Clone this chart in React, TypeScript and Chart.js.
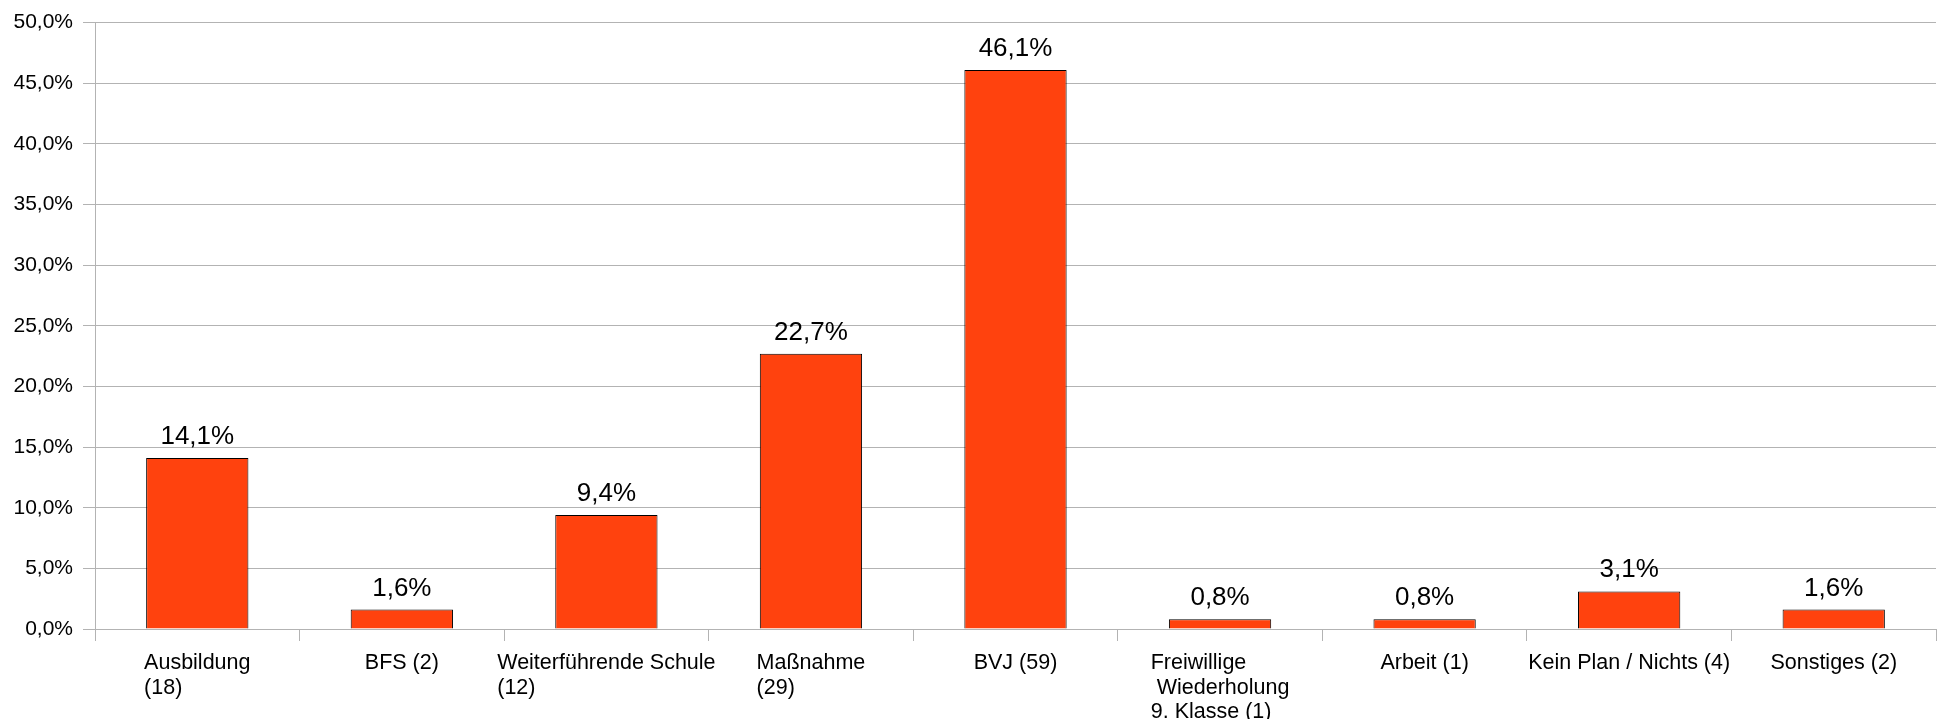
import React, { useEffect, useRef } from "react";
import { Chart, registerables } from "chart.js";

Chart.register(...registerables);

const categoryLines: string[][] = [
  ["Ausbildung", "(18)"],
  ["BFS (2)"],
  ["Weiterführende Schule", "(12)"],
  ["Maßnahme", "(29)"],
  ["BVJ (59)"],
  ["Freiwillige", " Wiederholung", "9. Klasse (1)"],
  ["Arbeit (1)"],
  ["Kein Plan / Nichts (4)"],
  ["Sonstiges (2)"],
];

const percentValues: number[] = [14.1, 1.6, 9.4, 22.7, 46.1, 0.8, 0.8, 3.1, 1.6];

const yMin = 0;
const yMax = 50;
const yStep = 5;

const FONT = "'Liberation Sans', Arial, sans-serif";
const fmt = (v: number) => v.toFixed(1).replace(".", ",") + "%";

export default function App() {
  const ref = useRef<HTMLCanvasElement | null>(null);

  useEffect(() => {
    if (!ref.current) return;

    const valueLabels = {
      id: "valueLabels",
      afterDatasetsDraw(chart: any) {
        const ctx = chart.ctx;
        const meta = chart.getDatasetMeta(0);
        ctx.save();
        ctx.font = `26px ${FONT}`;
        ctx.fillStyle = "#000";
        ctx.textAlign = "center";
        ctx.textBaseline = "alphabetic";
        meta.data.forEach((bar: any, i: number) => {
          ctx.fillText(fmt(percentValues[i]), bar.x, bar.y - 14);
        });
        ctx.restore();
      },
    };

    const catLabels = {
      id: "catLabels",
      afterDraw(chart: any) {
        const ctx = chart.ctx;
        const xs = chart.scales.x;
        ctx.save();
        ctx.font = `21.5px ${FONT}`;
        ctx.fillStyle = "#000";
        ctx.textAlign = "left";
        ctx.textBaseline = "alphabetic";
        categoryLines.forEach((lines, i) => {
          const cx = xs.getPixelForValue(i);
          const maxW = Math.max(...lines.map((l) => ctx.measureText(l).width));
          const x0 = cx - maxW / 2;
          lines.forEach((l, j) => {
            ctx.fillText(l, x0, xs.top + 40 + j * 24.5);
          });
        });
        ctx.restore();
      },
    };

    const chart = new Chart(ref.current, {
      type: "bar",
      data: {
        labels: categoryLines.map((l) => l.join(" ")),
        datasets: [
          {
            data: percentValues,
            backgroundColor: "#ff420e",
            borderColor: "#000000",
            borderWidth: 1,
            barPercentage: 0.5,
            categoryPercentage: 1.0,
          },
        ],
      },
      options: {
        animation: false,
        responsive: false,
        devicePixelRatio: 1,
        layout: { padding: { top: 6.4, right: 1, left: 0, bottom: 0 } },
        plugins: { legend: { display: false }, tooltip: { enabled: false } },
        scales: {
          x: {
            offset: true,
            grid: {
              offset: true,
              drawOnChartArea: false,
              drawTicks: true,
              tickLength: 12,
              color: "#b3b3b3",
              lineWidth: 1,
            },
            border: { display: true, color: "#b3b3b3" },
            ticks: { display: false },
            afterFit: (s: any) => {
              s.height = 90;
            },
          },
          y: {
            min: yMin,
            max: yMax,
            grid: { color: "#b3b3b3", lineWidth: 1, tickLength: 12, drawTicks: true },
            border: { display: true, color: "#b3b3b3" },
            ticks: {
              stepSize: yStep,
              padding: 10,
              color: "#000",
              font: { family: FONT, size: 21 },
              callback: (v: any) => fmt(Number(v)),
            },
            afterFit: (s: any) => {
              s.width = 95;
            },
          },
        },
      },
      plugins: [valueLabels, catLabels],
    });

    return () => chart.destroy();
  }, []);

  return (
    <div>
      <canvas
        ref={ref}
        width={1937}
        height={719}
        style={{ position: "fixed", left: 0, top: 0, display: "block", width: 1937, height: 719 }}
      />
    </div>
  );
}
